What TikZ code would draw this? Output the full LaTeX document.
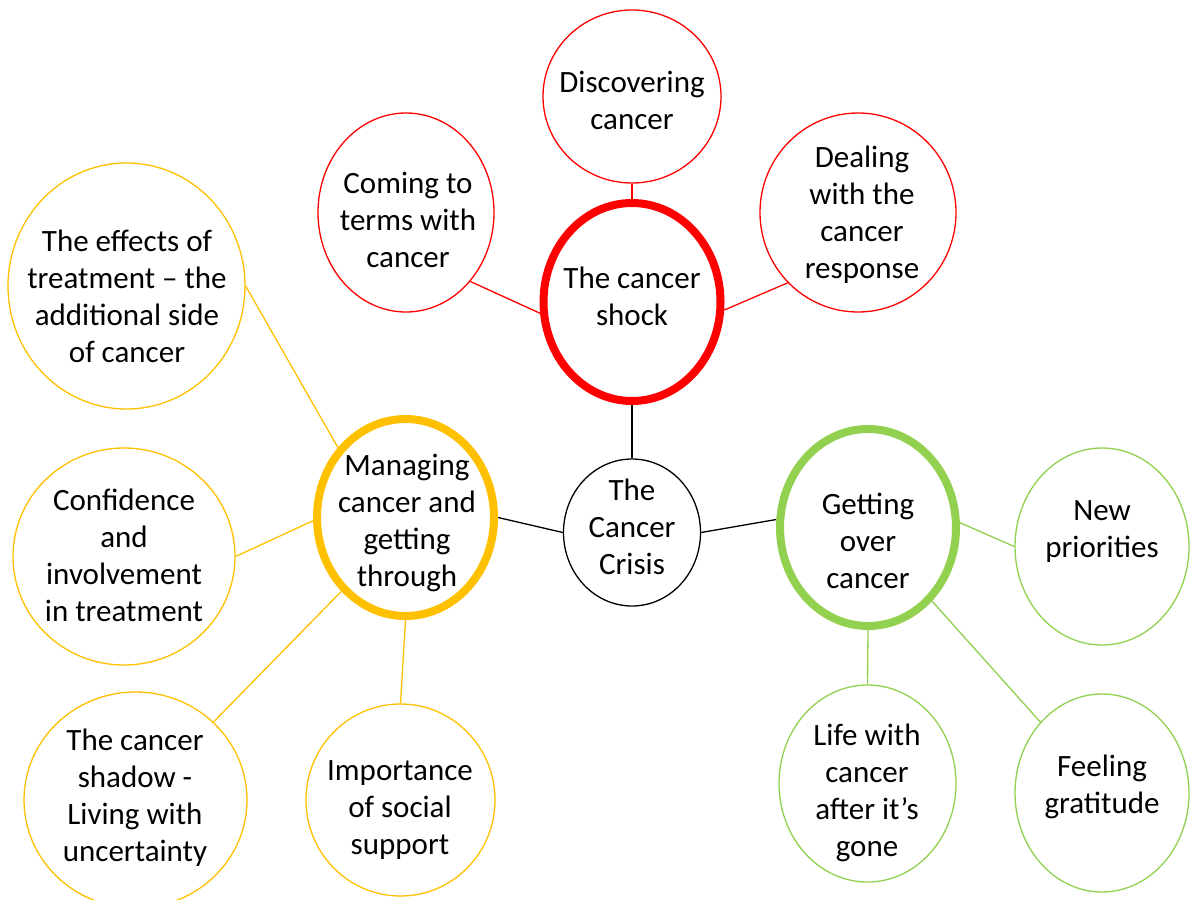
\documentclass[tikz,border=0pt]{standalone}
\usepackage{fontspec}
\setmainfont{Carlito}
\usetikzlibrary{shapes.geometric,backgrounds}
\definecolor{cred}{HTML}{FF0000}
\definecolor{corange}{HTML}{FFC000}
\definecolor{cgreen}{HTML}{92D050}
\begin{document}
\begin{tikzpicture}[x=1pt,y=-1pt,
  bub/.style={ellipse, draw, line width=1.3pt, inner sep=0pt, fill=white},
  ring/.style={ellipse, draw, line width=8pt, inner sep=0pt, fill=white},
  lbl/.style={align=center, font=\fontsize{31}{37}\selectfont, inner sep=0pt},
  link/.style={line width=1.3pt}]
\useasboundingbox (0,0) rectangle (1190,899);
% top group (red)
\node[bub, draw=cred, minimum width=178pt, minimum height=173pt] (disc) at (632,96.5) {};
\node[bub, draw=cred, minimum width=176pt, minimum height=199pt] (coming) at (406,212.5) {};
\node[bub, draw=cred, minimum width=196pt, minimum height=199pt] (dealing) at (858,212.5) {};
\node[ring, draw=cred, minimum width=177pt, minimum height=198pt] (shock) at (632,302) {};
% centre
\node[bub, draw=black, minimum width=137pt, minimum height=147pt] (crisis) at (632,532.5) {};
% left group (orange)
\node[ring, draw=corange, minimum width=177pt, minimum height=197pt] (manag) at (405.5,517.5) {};
\node[bub, draw=corange, minimum width=237pt, minimum height=246pt] (eff) at (126.5,286) {};
\node[bub, draw=corange, minimum width=222pt, minimum height=217pt] (conf) at (124,556.5) {};
\node[bub, draw=corange, minimum width=223pt, minimum height=216pt] (shadow) at (135.5,800) {};
\node[bub, draw=corange, minimum width=189pt, minimum height=192pt] (social) at (400.5,800) {};
% right group (green)
\node[ring, draw=cgreen, minimum width=176pt, minimum height=197pt] (getting) at (868,527.5) {};
\node[bub, draw=cgreen, minimum width=174pt, minimum height=197pt] (newp) at (1102,546.5) {};
\node[bub, draw=cgreen, minimum width=177pt, minimum height=197pt] (life) at (867.5,783.5) {};
\node[bub, draw=cgreen, minimum width=174pt, minimum height=198pt] (feel) at (1102,793) {};
% texts
\node[lbl] (disc-t) at (632,100) {Discovering\\cancer};
\node[lbl] (coming-t) at (408,220) {Coming to\\terms with\\cancer};
\node[lbl] (dealing-t) at (862,215) {Dealing\\with the\\cancer\\response};
\node[lbl] (shock-t) at (632,296) {The cancer\\shock};
\node[lbl] (crisis-t) at (632,527) {The\\Cancer\\Crisis};
\node[lbl] (manag-t) at (407,523) {Managing\\cancer and\\getting\\through};
\node[lbl] (eff-t) at (127,296) {The effects of\\treatment \textendash{} the\\additional side\\of cancer};
\node[lbl] (conf-t) at (124,555) {Confidence\\and\\involvement\\in treatment};
\node[lbl] (shadow-t) at (135,798) {The cancer\\shadow -\\Living with\\uncertainty};
\node[lbl] (social-t) at (400,810) {Importance\\of social\\support};
\node[lbl] (getting-t) at (868,541) {Getting\\over\\cancer};
\node[lbl] (newp-t) at (1102,532) {New\\priorities};
\node[lbl] (life-t) at (867,793) {Life with\\cancer\\after it’s\\gone};
\node[lbl] (feel-t) at (1102,787) {Feeling\\gratitude};
% connectors
\begin{scope}[on background layer]
\draw[link, cred] (disc.south) -- (shock.north);
\draw[link, cred] (coming.-47.8) -- (shock.-173.9);
\draw[link, cred] (dealing.-135.2) -- (shock.-5);
\draw[link, black] (shock.south) -- (crisis.north);
\draw[link, black] (crisis.180) -- (manag.0);
\draw[link, black] (crisis.0) -- (getting.175.8);
\draw[link, corange] (eff.0) -- (manag.134.2);
\draw[link, corange] (conf.0) -- (manag.-178.5);
\draw[link, corange] (manag.-131.3) -- (shadow.45.2);
\draw[link, corange] (manag.south) -- (social.north);
\draw[link, cgreen] (getting.3.4) -- (newp.180);
\draw[link, cgreen] (getting.south) -- (life.north);
\draw[link, cgreen] (getting.-49.7) -- (feel.131.5);
\end{scope}
\end{tikzpicture}
\end{document}
